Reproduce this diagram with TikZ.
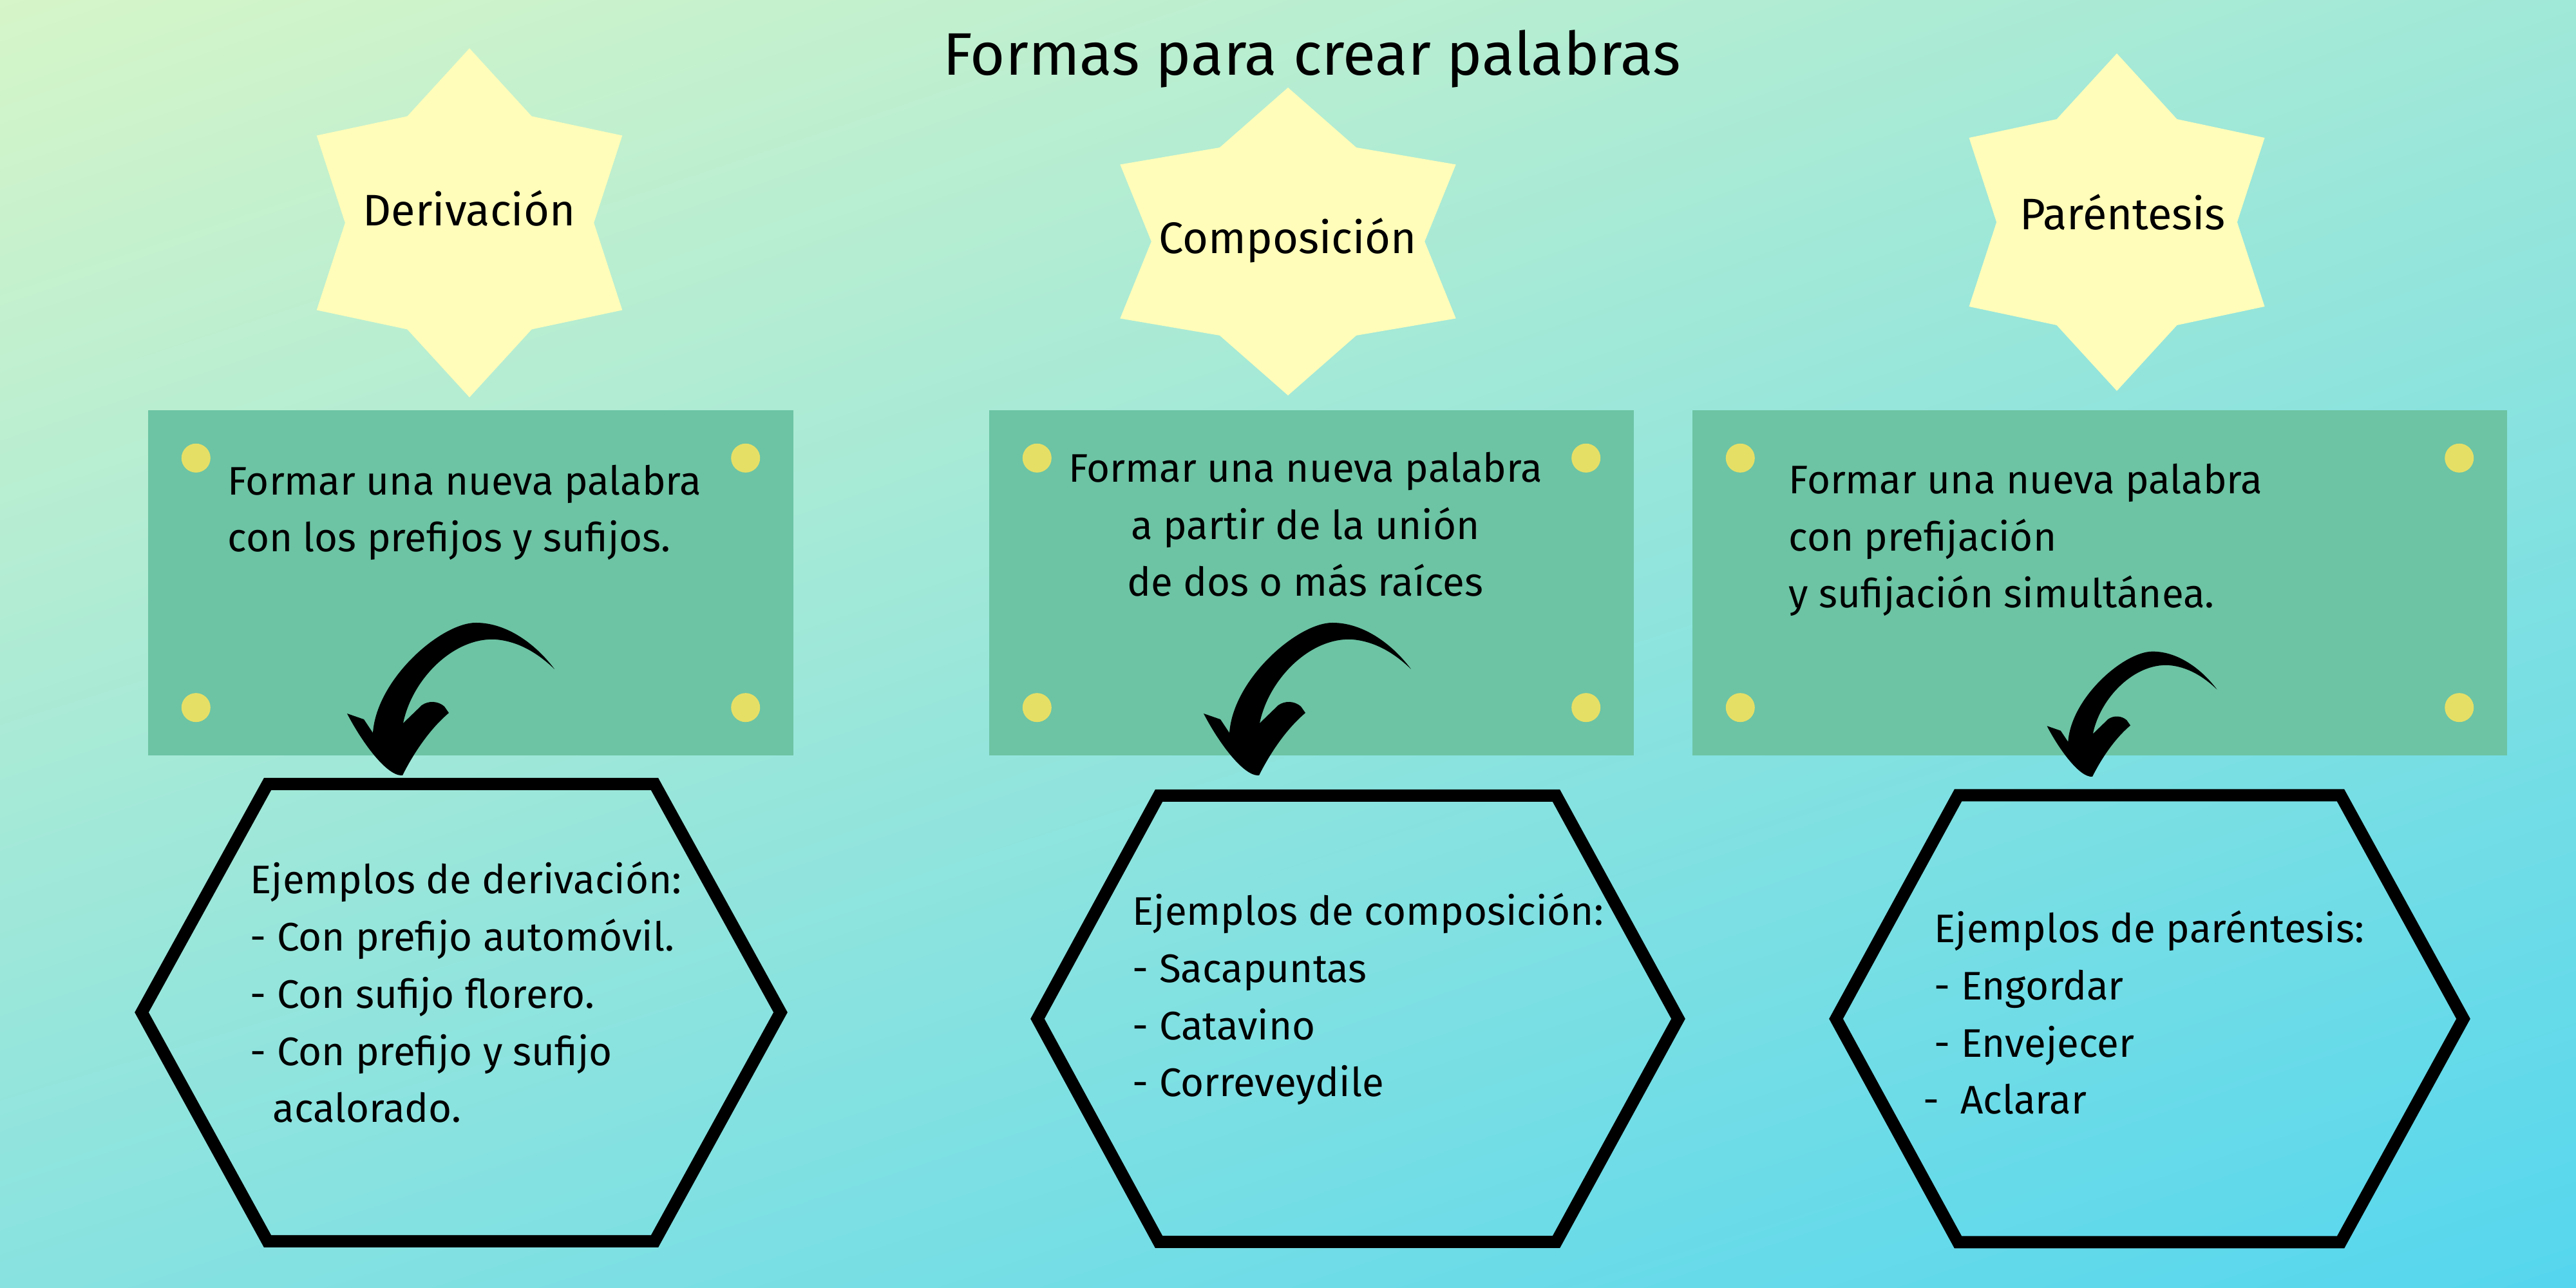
\documentclass[tikz,border=0pt]{standalone}
\usepackage{fontspec}
\setmainfont{Fira Sans}
\usetikzlibrary{shadings}

\definecolor{fondoA}{RGB}{214,245,200}
\definecolor{fondoB}{RGB}{160,232,216}
\definecolor{fondoC}{RGB}{136,226,224}
\definecolor{fondoD}{RGB}{85,214,238}
\definecolor{verde}{RGB}{108,196,164}
\definecolor{punto}{RGB}{230,223,102}
\definecolor{amarillo}{RGB}{255,253,185}

% brush arrow, tip at the origin
\tikzset{flecha/.pic={
  \fill[black] (2.36,1.65) .. controls (2.10,2.00) and (1.65,2.37) .. (1.14,2.37)
    .. controls (0.60,2.37) and (-0.40,1.50) .. (-0.46,0.66) -- (-0.60,0.87) -- (-0.86,0.96)
    .. controls (-0.65,0.55) and (-0.25,-0.02) .. (0,0)
    .. controls (0.15,0.30) and (0.40,0.70) .. (0.72,0.97) -- (0.65,1.07)
    .. controls (0.55,1.16) and (0.40,1.16) .. (0.30,1.09) -- (0.01,0.81)
    .. controls (0.15,1.50) and (0.80,2.15) .. (1.45,2.11)
    .. controls (1.80,2.08) and (2.10,1.90) .. (2.36,1.65) -- cycle;
}}

\newcommand{\estrella}[3]{%
  \fill[amarillo,shift={#1}] (90:#2 and #3)
    \foreach \i [evaluate=\i as \f using {1-0.295*mod(\i,2)}] in {1,...,11}
      { -- ({90+30*\i}:{#2*\f} and {#3*\f}) } -- cycle;}

\begin{document}
\begin{tikzpicture}[x=1cm,y=1cm,
  caja/.style={rectangle,fill=verde,minimum height=5.36cm,inner sep=0pt},
  texto/.style={font=\fontsize{17.6}{25.3}\selectfont,align=left,anchor=base west,inner sep=0pt},
  rotulo/.style={font=\fontsize{19.5}{22}\selectfont,anchor=base,inner sep=0pt},
  hexa/.style={draw=black,line width=0.19cm,line join=miter}]

  \shade[upper left=fondoA,upper right=fondoB,lower left=fondoC,lower right=fondoD]
    (0,0) rectangle (40,20);

  \node[font=\fontsize{26.5}{30}\selectfont,anchor=base,inner sep=0pt] (titulo) at (20.37,18.83) {Formas para crear palabras};

  \estrella{(7.29,16.54)}{2.74}{2.71}
  \estrella{(20.00,16.25)}{3.01}{2.39}
  \estrella{(32.87,16.55)}{2.65}{2.62}
  \node[rotulo] (deriv) at (7.285,16.49) {Derivación};
  \node[rotulo] (compo) at (19.995,16.06) {Composición};
  \node[rotulo] (paren) at (32.96,16.43) {Paréntesis};

  \node[caja,minimum width=10.02cm] (r1) at (7.31,10.95) {};
  \node[caja,minimum width=10.01cm] (r2) at (20.365,10.95) {};
  \node[caja,minimum width=12.65cm] (r3) at (32.605,10.95) {};
  \foreach \r in {r1,r2,r3}
    \foreach \c/\dx/\dy in {north west/0.75/-0.75,north east/-0.75/-0.75,south west/0.75/0.75,south east/-0.75/0.75}
      \fill[punto] ([shift={(\dx,\dy)}]\r.\c) circle (0.225);

  % multi-line nodes sit on the baseline of their last line
  \node[texto] (t1) at (3.53,11.43) {Formar una nueva palabra\\con los prefijos y sufijos.};
  \node[texto,align=center,anchor=base] (t2) at (20.27,10.74) {Formar una nueva palabra\\a partir de la unión\\de dos o más raíces};
  \node[texto] (t3) at (27.77,10.56) {Formar una nueva palabra\\con prefijación\\y sufijación simultánea.};

  \draw[hexa] (2.20,4.28) -- (4.155,7.825) -- (10.165,7.825) -- (12.12,4.28) -- (10.165,0.725) -- (4.155,0.725) -- cycle;
  \draw[hexa] (16.11,4.18) -- (17.995,7.645) -- (24.165,7.645) -- (26.06,4.18) -- (24.165,0.715) -- (17.995,0.715) -- cycle;
  \draw[hexa] (28.51,4.18) -- (30.405,7.65) -- (36.345,7.65) -- (38.25,4.18) -- (36.345,0.71) -- (30.405,0.71) -- cycle;

  \node[texto] (e1) at (3.88,2.57) {Ejemplos de derivación:\\- Con prefijo automóvil.\\- Con sufijo florero.\\- Con prefijo y sufijo\\\hspace*{0.35cm}acalorado.};
  \node[texto] (e2) at (17.58,2.97) {Ejemplos de composición:\\- Sacapuntas\\- Catavino\\- Correveydile};
  \node[texto] (e3) at (30.03,2.70) {Ejemplos de paréntesis:\\- Engordar\\- Envejecer\\\hspace*{-0.17cm}-\ \ Aclarar};

  \coordinate (f1) at (6.25,7.96);
  \coordinate (f2) at (19.55,7.96);
  \coordinate (f3) at (32.49,7.94);
  \pic at (f1) {flecha};
  \pic at (f2) {flecha};
  \pic[scale=0.82] at (f3) {flecha};
\end{tikzpicture}
\end{document}
